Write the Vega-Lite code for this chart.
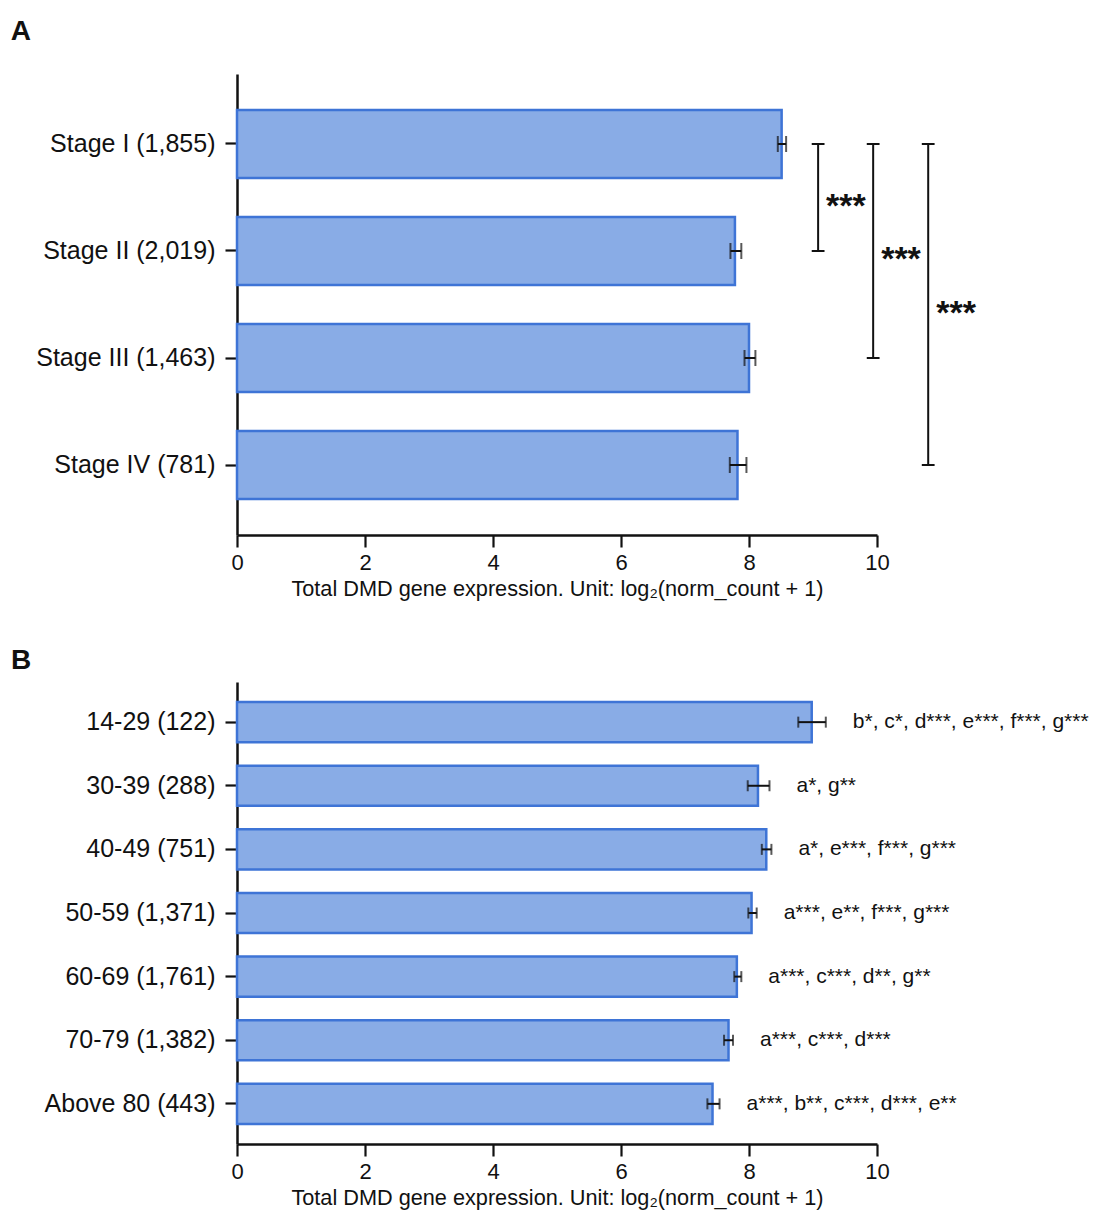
{
  "$schema": "https://vega.github.io/schema/vega-lite/v6.json",
  "padding": {"left": 10, "top": 18, "right": 3, "bottom": 5},
  "spacing": 47,
  "config": {
    "font": "Liberation Sans",
    "view": {"stroke": null},
    "axis": {
      "domainColor": "#111111",
      "domainWidth": 2.5,
      "tickColor": "#111111",
      "tickWidth": 2.2,
      "tickSize": 12,
      "grid": false,
      "labelColor": "#111111",
      "titleColor": "#111111",
      "titleFontWeight": "normal"
    },
    "axisY": {"labelFontSize": 25, "labelPadding": 10, "title": null, "labelLimit": 400},
    "axisX": {"labelFontSize": 22, "labelPadding": 5, "titleFontSize": 21.7, "titlePadding": 5, "labelFlush": false}
  },
  "vconcat": [
    {
      "width": 640,
      "height": 461,
      "title": {"text": "A", "anchor": "start", "frame": "bounds", "fontSize": 28, "fontWeight": "bold", "offset": 28, "dx": -25, "color": "#111111"},
      "layer": [
        {
          "data": {"values": [
            {"group": "Stage I (1,855)", "mean": 8.51, "lo": 8.45, "hi": 8.58},
            {"group": "Stage II (2,019)", "mean": 7.78, "lo": 7.71, "hi": 7.88},
            {"group": "Stage III (1,463)", "mean": 8.0, "lo": 7.93, "hi": 8.1},
            {"group": "Stage IV (781)", "mean": 7.82, "lo": 7.7, "hi": 7.96}
          ]},
          "layer": [
            {
              "mark": {"type": "bar", "fill": "#89ACE6", "stroke": "#3E74D6", "strokeWidth": 2.5},
              "encoding": {
                "y": {"field": "group", "type": "nominal", "sort": null,
                      "scale": {"domain": ["Stage I (1,855)", "Stage II (2,019)", "Stage III (1,463)", "Stage IV (781)"], "paddingInner": 0.364, "paddingOuter": 0.336}},
                "x": {"field": "mean", "type": "quantitative", "scale": {"domain": [0, 10], "nice": false},
                      "axis": {"values": [0, 2, 4, 6, 8, 10], "format": "d"},
                      "title": "Total DMD gene expression. Unit: log₂(norm_count + 1)"}
              }
            },
            {
              "mark": {"type": "rule", "color": "#111111", "strokeWidth": 2},
              "encoding": {
                "y": {"field": "group", "type": "nominal", "sort": null},
                "x": {"field": "lo", "type": "quantitative"},
                "x2": {"field": "hi"}
              }
            },
            {
              "mark": {"type": "tick", "color": "#111111", "thickness": 2, "size": 16, "orient": "vertical"},
              "encoding": {
                "y": {"field": "group", "type": "nominal", "sort": null},
                "x": {"field": "lo", "type": "quantitative"}
              }
            },
            {
              "mark": {"type": "tick", "color": "#111111", "thickness": 2, "size": 16, "orient": "vertical"},
              "encoding": {
                "y": {"field": "group", "type": "nominal", "sort": null},
                "x": {"field": "hi", "type": "quantitative"}
              }
            }
          ]
        },
        {
          "data": {"values": [
            {"x": 9.08, "from": "Stage I (1,855)", "to": "Stage II (2,019)"},
            {"x": 9.94, "from": "Stage I (1,855)", "to": "Stage III (1,463)"},
            {"x": 10.8, "from": "Stage I (1,855)", "to": "Stage IV (781)"}
          ]},
          "mark": {"type": "rule", "color": "#111111", "strokeWidth": 2},
          "encoding": {
            "x": {"field": "x", "type": "quantitative"},
            "y": {"field": "from", "type": "nominal", "sort": null},
            "y2": {"field": "to"}
          }
        },
        {
          "data": {"values": [
            {"x": 8.98, "x2": 9.18, "at": "Stage I (1,855)"},
            {"x": 8.98, "x2": 9.18, "at": "Stage II (2,019)"},
            {"x": 9.84, "x2": 10.04, "at": "Stage I (1,855)"},
            {"x": 9.84, "x2": 10.04, "at": "Stage III (1,463)"},
            {"x": 10.7, "x2": 10.9, "at": "Stage I (1,855)"},
            {"x": 10.7, "x2": 10.9, "at": "Stage IV (781)"}
          ]},
          "mark": {"type": "rule", "color": "#111111", "strokeWidth": 2},
          "encoding": {
            "x": {"field": "x", "type": "quantitative"},
            "x2": {"field": "x2"},
            "y": {"field": "at", "type": "nominal", "sort": null}
          }
        },
        {
          "data": {"values": [
            {"x": 9.08, "at": "Stage II (2,019)", "label": "***"},
            {"x": 10.8, "at": "Stage III (1,463)", "label": "***"}
          ]},
          "mark": {"type": "text", "align": "left", "baseline": "alphabetic", "dx": 8, "dy": -34, "fontSize": 34, "fontWeight": "bold", "color": "#111111"},
          "encoding": {
            "x": {"field": "x", "type": "quantitative"},
            "y": {"field": "at", "type": "nominal", "sort": null},
            "text": {"field": "label"}
          }
        },
        {
          "data": {"values": [
            {"x": 9.94, "at": "Stage II (2,019)", "label": "***"}
          ]},
          "mark": {"type": "text", "align": "left", "baseline": "alphabetic", "dx": 8, "dy": 19, "fontSize": 34, "fontWeight": "bold", "color": "#111111"},
          "encoding": {
            "x": {"field": "x", "type": "quantitative"},
            "y": {"field": "at", "type": "nominal", "sort": null},
            "text": {"field": "label"}
          }
        }
      ]
    },
    {
      "width": 640,
      "height": 462,
      "title": {"text": "B", "anchor": "start", "frame": "bounds", "fontSize": 28, "fontWeight": "bold", "offset": 7, "dx": -33, "color": "#111111"},
      "data": {"values": [
        {"group": "14-29 (122)", "mean": 8.98, "lo": 8.77, "hi": 9.2, "sig": "b*, c*, d***, e***, f***, g***"},
        {"group": "30-39 (288)", "mean": 8.14, "lo": 7.98, "hi": 8.32, "sig": "a*, g**"},
        {"group": "40-49 (751)", "mean": 8.27, "lo": 8.2, "hi": 8.35, "sig": "a*, e***, f***, g***"},
        {"group": "50-59 (1,371)", "mean": 8.04, "lo": 7.99, "hi": 8.12, "sig": "a***, e**, f***, g***"},
        {"group": "60-69 (1,761)", "mean": 7.81, "lo": 7.77, "hi": 7.88, "sig": "a***, c***, d**, g**"},
        {"group": "70-79 (1,382)", "mean": 7.68, "lo": 7.61, "hi": 7.75, "sig": "a***, c***, d***"},
        {"group": "Above 80 (443)", "mean": 7.43, "lo": 7.35, "hi": 7.54, "sig": "a***, b**, c***, d***, e**"}
      ]},
      "encoding": {
        "y": {"field": "group", "type": "nominal", "sort": null,
              "scale": {"paddingInner": 0.37, "paddingOuter": 0.316}}
      },
      "layer": [
        {
          "mark": {"type": "bar", "fill": "#89ACE6", "stroke": "#3E74D6", "strokeWidth": 2.5},
          "encoding": {
            "x": {"field": "mean", "type": "quantitative", "scale": {"domain": [0, 10], "nice": false},
                  "axis": {"values": [0, 2, 4, 6, 8, 10], "format": "d"},
                  "title": "Total DMD gene expression. Unit: log₂(norm_count + 1)"}
          }
        },
        {
          "mark": {"type": "rule", "color": "#111111", "strokeWidth": 2},
          "encoding": {
            "x": {"field": "lo", "type": "quantitative"},
            "x2": {"field": "hi"}
          }
        },
        {
          "mark": {"type": "tick", "color": "#111111", "thickness": 2, "size": 11, "orient": "vertical"},
          "encoding": {"x": {"field": "lo", "type": "quantitative"}}
        },
        {
          "mark": {"type": "tick", "color": "#111111", "thickness": 2, "size": 11, "orient": "vertical"},
          "encoding": {"x": {"field": "hi", "type": "quantitative"}}
        },
        {
          "mark": {"type": "text", "align": "left", "baseline": "middle", "dx": 27, "fontSize": 21, "color": "#111111"},
          "encoding": {
            "x": {"field": "hi", "type": "quantitative"},
            "text": {"field": "sig"}
          }
        }
      ]
    }
  ]
}
